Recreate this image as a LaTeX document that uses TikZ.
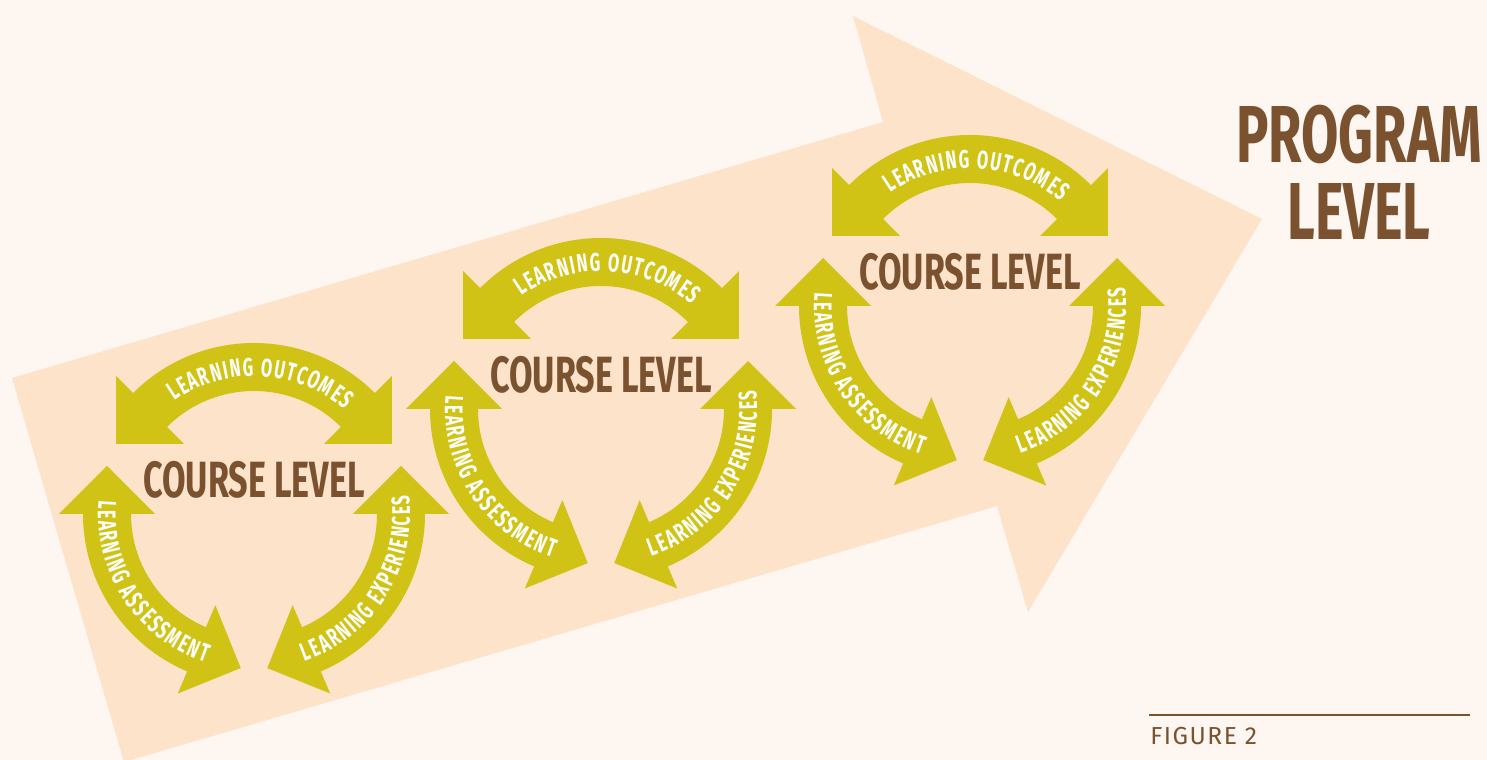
\documentclass[tikz,border=0pt]{standalone}
\usepackage{fontspec}
\usepackage{xcolor}
\usepackage{tikz}
\usetikzlibrary{calc}
\usetikzlibrary{decorations.text}

\newfontfamily\dinfont[FakeStretch=0.67]{Fira Sans}
\newfontfamily\bandfont[FakeStretch=0.64]{Fira Sans}
\newfontfamily\capfont[LetterSpace=6]{Fira Sans}

\definecolor{paper}{HTML}{FEF6F0}
\definecolor{peach}{HTML}{FCE3C9}
\definecolor{mustard}{HTML}{D1C316}
\definecolor{cocoa}{HTML}{7A5230}

\tikzset{
  course/.style={anchor=base,inner sep=0pt,text=cocoa,font=\dinfont\bfseries\fontsize{29}{29}\selectfont},
  program/.style={anchor=base,inner sep=0pt,text=cocoa,font=\dinfont\bfseries\fontsize{46}{46}\selectfont},
  arctext/.style={decorate,decoration={text along path,text align=fit to path,
    text={|\bandfont\bfseries\fontsize{14.5}{14.5}\selectfont\color{white}|#1}}}
}

% double headed band on a circle: centre, from angle, to angle
\newcommand{\bandarrow}[3]{
  \fill[mustard] ($(#1)+(#2:123)$) arc[start angle=#2,end angle=#3,radius=123]
    -- ($(#1)+(#3:99)$) -- ($(#1)+(#3:147)+({#3+90}:48)$) -- ($(#1)+(#3:195)$)
    -- ($(#1)+(#3:171)$) arc[start angle=#3,end angle=#2,radius=171]
    -- ($(#1)+(#2:195)$) -- ($(#1)+(#2:147)+({#2-90}:48)$) -- ($(#1)+(#2:99)$) -- cycle;
}
\newcommand{\levelcycle}[1]{
  \bandarrow{#1}{45}{135}
  \bandarrow{#1}{180}{247}
  \bandarrow{#1}{293}{360}
  \path[arctext={LEARNING OUTCOMES}] ($(#1)+(125:138)$) arc[start angle=125,end angle=49,radius=138];
  \path[arctext={LEARNING ASSESSMENT}] ($(#1)+(175:156)$) arc[start angle=175,end angle=252,radius=156];
  \path[arctext={LEARNING EXPERIENCES}] ($(#1)+(289:156)$) arc[start angle=289,end angle=367,radius=156];
  \node[course] (#1-label) at ($(#1)+(0,16)$) {COURSE LEVEL};
}

\begin{document}
\begin{tikzpicture}[x=0.02cm,y=0.02cm]
	\useasboundingbox (0,0) rectangle (1487,760);
	\fill[paper] (0,0) rectangle (1487,760);
	\clip (0,0) rectangle (1487,760);
	\fill[peach] (12,382) -- (883,638) -- (853,744) -- (1262,541) -- (1028,148) -- (997,254) -- (124,-2) -- cycle;
	\coordinate (c1) at (254,246);
	\coordinate (c2) at (601,351);
	\coordinate (c3) at (970,454);
	\levelcycle{c1}
	\levelcycle{c2}
	\levelcycle{c3}
	\node[program] (program) at (1359,597) {PROGRAM};
	\node[program] (level) at (1359,520) {LEVEL};
	\draw[cocoa,line width=0.7pt] (1149,45) -- (1470,45);
	\node[anchor=base west,inner sep=0pt,text=cocoa,font=\capfont\fontsize{14}{14}\selectfont] (figure) at (1150,15) {FIGURE 2};
\end{tikzpicture}
\end{document}
